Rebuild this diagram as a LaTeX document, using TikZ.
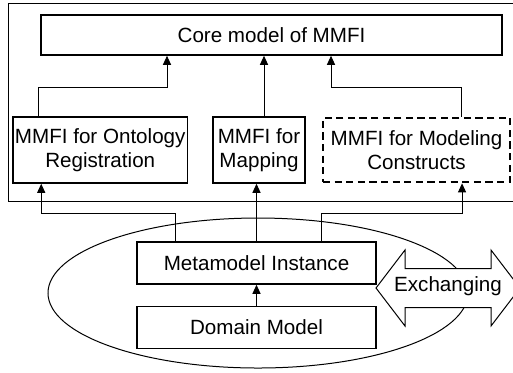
\documentclass[tikz,border=0pt]{standalone}
\usepackage{fontspec}
\setmainfont{Liberation Sans}
\usepackage{tikz}
\usetikzlibrary{positioning, arrows.meta}
\tikzset{
	every node/.append style={
		font={\fontsize{10.3}{11.8}\selectfont},
	},
	layer/.append style={
		draw,
		line width=0.75pt,
		align = center,
		inner sep=1pt,
		fill=white,
	},
	optional/.append style={
		layer,
		line width=1.3pt,
		dash pattern=on 3.6pt off 2.2pt,
	},
	arr/.append style={
		line width=0.5pt,
		-{Triangle[width=4pt,length=4.5pt]},
	},
	frame/.append style={
		line width=0.5pt,
	}
}

\begin{document}
\begin{tikzpicture}[x=0.5pt, y=-0.5pt]

\clip (0,0) rectangle (513,372);

\draw[frame] (8,3) rectangle (540,201);
\draw[line width=0.5pt] (258,293) ellipse [x radius=210, y radius=75];

% exchanging arrow, white so that it hides the ellipse
\begin{scope}[shift={(448,288)}]
\draw[line width=0.5pt, fill=white] (-72,0) -- (-43,-38) -- (-43,-19.5) -- (43,-19.5) -- (43,-38)
	-- (72,0) -- (43,38) -- (43,19.5) -- (-43,19.5) -- (-43,38) -- cycle;
\end{scope}
\node(xchg) at (448,286) {Exchanging};

\node(core)[layer, minimum width=230.5pt, minimum height=20pt] at (271.5,35) {Core model of MMFI};

\node(mapping)[layer, minimum width=46pt, minimum height=33pt] at (259,150) {MMFI for\\Mapping};
\node(onto)[layer, minimum width=86pt, minimum height=33pt, left=12pt of mapping] {MMFI for Ontology\\Registration};
\node(modeling)[optional, minimum width=93.5pt, minimum height=32pt, right=8pt of mapping] {MMFI for Modeling\\Constructs};

\node(meta)[layer, minimum width=119.5pt, minimum height=21pt] at (256.5,263) {Metamodel Instance};
\node(domain)[layer, minimum width=119.5pt, minimum height=21pt, below=10.5pt of meta] {Domain Model};

\draw[arr] ([xshift=-31pt]onto.north) -- ++(0,-29) -| ([xshift=-52.25pt]core.south);
\draw[arr] ([xshift=2.5pt]mapping.north) -- ([xshift=2.5pt]mapping.north |- core.south);
\draw[arr] ([xshift=22.25pt]modeling.north) -- ++(0,-29) -| ([xshift=29.75pt]core.south);

\draw[arr] ([xshift=-40.75pt]meta.north) -- ++(0,-28) -| ([xshift=-29.5pt]onto.south);
\draw[arr] (meta.north) -- (meta.north |- mapping.south);
\draw[arr] ([xshift=32.25pt]meta.north) -- ++(0,-28) -| ([xshift=22.75pt]modeling.south);

\draw[arr] (domain) -- (meta);

\end{tikzpicture}
\end{document}
